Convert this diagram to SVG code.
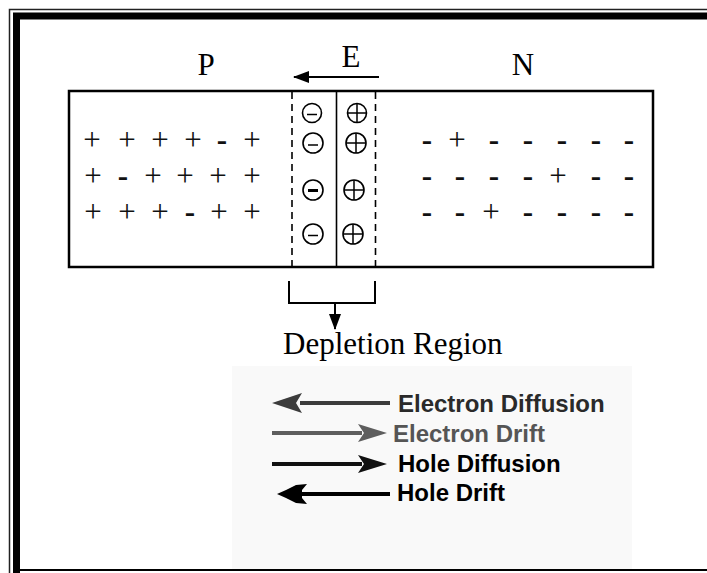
<svg xmlns="http://www.w3.org/2000/svg" width="707" height="573" viewBox="0 0 707 573">
<style>
.lbl{font-family:"Liberation Serif","Times New Roman",serif;font-size:31px;fill:#000}
.pl{font-family:"Liberation Serif","Times New Roman",serif;font-size:31px;fill:#111;text-anchor:middle}
.mi{font-family:"Liberation Serif","Times New Roman",serif;font-size:31px;font-weight:bold;fill:#111;text-anchor:middle}
.leg{font-family:"Liberation Sans",Arial,sans-serif;font-size:24px;font-weight:bold}
.ion{fill:#fff;stroke:#000;stroke-width:1.6}
.sign{stroke:#000;stroke-width:1.5;fill:none}
.dash{stroke:#000;stroke-width:1.6;stroke-dasharray:7 5;fill:none}
</style>
<defs>
<marker id="ah" markerWidth="16" markerHeight="12" refX="15" refY="6" orient="auto" markerUnits="userSpaceOnUse">
<path d="M0,0 L16,6 L0,12 Z" fill="#000"/>
</marker>
</defs>
<rect width="707" height="573" fill="#fff"/>
<g id="frame" fill="none">
<path d="M9.5 573 V9.5 H707" stroke="#222" stroke-width="1.5"/>
<path d="M16.5 573 V16 H707" stroke="#000" stroke-width="7"/>
<path d="M20 570 H707" stroke="#000" stroke-width="2"/>
</g>
<g id="labels">
<text class="lbl" x="206" y="75" text-anchor="middle">P</text>
<text class="lbl" x="351" y="67" text-anchor="middle">E</text>
<text class="lbl" x="523" y="75" text-anchor="middle">N</text>
</g>
<g id="junction">
<rect x="69" y="91" width="584" height="176" fill="#fff" stroke="#000" stroke-width="2.5"/>
<line class="dash" x1="292" y1="92" x2="292" y2="266"/>
<line class="dash" x1="375.5" y1="92" x2="375.5" y2="266"/>
<line x1="336.5" y1="92" x2="336.5" y2="266" stroke="#000" stroke-width="1.6"/>
</g>
<g id="p-side">
<text class="pl" x="92" y="150">+</text><text class="pl" x="127" y="150">+</text><text class="pl" x="160" y="150">+</text><text class="pl" x="193" y="150">+</text><text class="mi" x="222" y="150">-</text><text class="pl" x="252" y="150">+</text>
<text class="pl" x="93" y="186">+</text><text class="mi" x="123" y="186">-</text><text class="pl" x="153" y="186">+</text><text class="pl" x="185" y="186">+</text><text class="pl" x="218" y="186">+</text><text class="pl" x="252" y="186">+</text>
<text class="pl" x="93" y="222">+</text><text class="pl" x="127" y="222">+</text><text class="pl" x="160" y="222">+</text><text class="mi" x="190" y="222">-</text><text class="pl" x="219" y="222">+</text><text class="pl" x="252" y="222">+</text>
</g>
<g id="n-side">
<text class="mi" x="427" y="150">-</text><text class="pl" x="457" y="150">+</text><text class="mi" x="494" y="150">-</text><text class="mi" x="528" y="150">-</text><text class="mi" x="562" y="150">-</text><text class="mi" x="596" y="150">-</text><text class="mi" x="629" y="150">-</text>
<text class="mi" x="427" y="186">-</text><text class="mi" x="460" y="186">-</text><text class="mi" x="494" y="186">-</text><text class="mi" x="528" y="186">-</text><text class="pl" x="558" y="186">+</text><text class="mi" x="596" y="186">-</text><text class="mi" x="629" y="186">-</text>
<text class="mi" x="427" y="222">-</text><text class="mi" x="460" y="222">-</text><text class="pl" x="491" y="222">+</text><text class="mi" x="528" y="222">-</text><text class="mi" x="562" y="222">-</text><text class="mi" x="596" y="222">-</text><text class="mi" x="629" y="222">-</text>
</g>
<g id="ions">
<circle class="ion" cx="312" cy="113" r="9.5"/><path class="sign" d="M307 114.5 H317"/>
<circle class="ion" cx="313" cy="143" r="10"/><path class="sign" d="M308 145 H318"/>
<circle class="ion" cx="313" cy="190" r="10"/><path d="M308 190.5 H318" stroke="#000" stroke-width="3"/>
<circle class="ion" cx="313" cy="234" r="10"/><path class="sign" d="M308 235.5 H318"/>
<circle class="ion" cx="357" cy="113" r="9.5"/><path class="sign" d="M347.5 113 H366.5 M357 103.5 V122.5"/>
<circle class="ion" cx="356" cy="143" r="10"/><path class="sign" d="M346 143 H366 M356 133 V153"/>
<circle class="ion" cx="354" cy="190" r="10"/><path class="sign" d="M344 190 H364 M354 180 V200"/>
<circle class="ion" cx="353" cy="234" r="10"/><path class="sign" d="M343 234 H363 M353 224 V244"/>
</g>
<g id="connectors" fill="none" stroke="#000" stroke-width="2">
<line x1="379" y1="77" x2="294" y2="77" marker-end="url(#ah)"/>
<path d="M289 281 V303 H375 V281"/>
<line x1="335" y1="303" x2="335" y2="329" marker-end="url(#ah)"/>
</g>
<g id="depletion-label">
<text class="lbl" x="283" y="354">Depletion Region</text>
</g>
<g id="legend">
<rect x="232" y="366" width="400" height="203" fill="#f9f9f9"/>
<g id="electron-diffusion">
<path d="M300 401 H390 V405 H300 Z" fill="#3c3c3c"/>
<path d="M272 403 L302 393 L296 403 L302 413 Z" fill="#3c3c3c"/>
<text class="leg" x="398" y="412" fill="#2a2a2a">Electron Diffusion</text>
</g>
<g id="electron-drift">
<path d="M272 431 H362 V435 H272 Z" fill="#5e5e5e"/>
<path d="M387 433 L358 424 L364 433 L358 442 Z" fill="#5e5e5e"/>
<text class="leg" x="393" y="442" fill="#555">Electron Drift</text>
</g>
<g id="hole-diffusion">
<path d="M272 462 H362 V466 H272 Z" fill="#111"/>
<path d="M387 464 L358 455 L364 464 L358 473 Z" fill="#111"/>
<text class="leg" x="398" y="472" fill="#000">Hole Diffusion</text>
</g>
<g id="hole-drift">
<path d="M300 492 H390 V496 H300 Z" fill="#000"/>
<path d="M277 494 L286 490 L296 485 L307 484 L302 490 L302 498 L307 504 L296 503 L286 498 Z" fill="#000"/>
<text class="leg" x="397" y="501" fill="#000">Hole Drift</text>
</g>
</g>
</svg>
